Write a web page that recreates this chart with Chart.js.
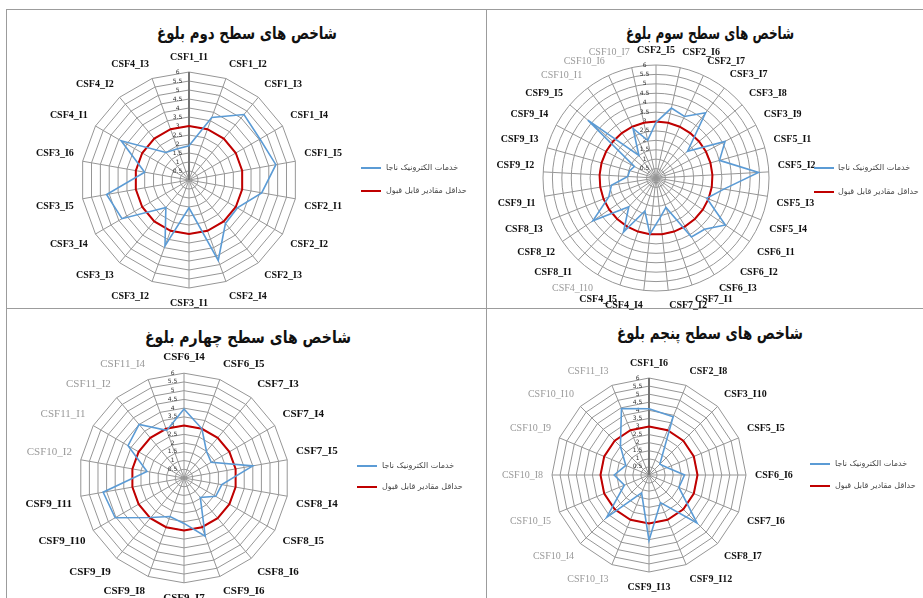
<!DOCTYPE html>
<html><head><meta charset="utf-8">
<script src="https://cdn.jsdelivr.net/npm/chart.js@4.4.1/dist/chart.umd.min.js"></script>
<style>
html,body{margin:0;padding:0;background:#fff;}
body{width:923px;height:598px;position:relative;overflow:hidden;}
.rule{position:absolute;background:#9c9c9c;}
canvas{position:absolute;}
.title{position:absolute;font-family:"DejaVu Sans",sans-serif;font-weight:bold;font-size:17px;line-height:20px;direction:rtl;white-space:nowrap;transform-origin:0 50%;color:#111;}
.leg{position:absolute;font-family:"DejaVu Sans",sans-serif;font-size:8px;line-height:10px;color:#444;direction:rtl;white-space:nowrap;}
.sw{position:absolute;height:2px;width:20px;}
</style></head><body>

<div class="rule" style="left:6px;top:9px;width:1px;height:589px"></div>
<div class="rule" style="left:6px;top:9px;width:917px;height:1px"></div>
<div class="rule" style="left:486px;top:9px;width:1px;height:589px"></div>
<div class="rule" style="left:6px;top:308px;width:917px;height:1px"></div>

<canvas id="c1" width="360" height="258" style="left:9px;top:51px"></canvas>
<canvas id="c2" width="366" height="268" style="left:473px;top:44px"></canvas>
<canvas id="c3" width="362" height="254" style="left:3px;top:351px"></canvas>
<canvas id="c4" width="340" height="236" style="left:479px;top:357px"></canvas>

<div class="title" id="t1" style="top:23px">شاخص های سطح دوم بلوغ</div>
<div class="title" id="t2" style="top:23px">شاخص های سطح سوم بلوغ</div>
<div class="title" id="t3" style="top:327px">شاخص های سطح چهارم بلوغ</div>
<div class="title" id="t4" style="top:323px">شاخص های سطح پنجم بلوغ</div>

<div class="sw" style="left:361px;top:167px;background:#5b9bd5"></div>
<div class="leg" style="left:386px;top:163px">خدمات الکترونیک ناجا</div>
<div class="sw" style="left:361px;top:190px;background:#c00000"></div>
<div class="leg" style="left:386px;top:186px">حداقل مقادیر قابل قبول</div>

<div class="sw" style="left:814px;top:167px;background:#5b9bd5"></div>
<div class="leg" style="left:838px;top:163px">خدمات الکترونیک ناجا</div>
<div class="sw" style="left:814px;top:191px;background:#c00000"></div>
<div class="leg" style="left:838px;top:187px">حداقل مقادیر قابل قبول</div>

<div class="sw" style="left:357px;top:465px;background:#5b9bd5"></div>
<div class="leg" style="left:382px;top:461px">خدمات الکترونیک ناجا</div>
<div class="sw" style="left:357px;top:486px;background:#c00000"></div>
<div class="leg" style="left:382px;top:482px">حداقل مقادیر قابل قبول</div>

<div class="sw" style="left:810px;top:463px;background:#5b9bd5"></div>
<div class="leg" style="left:835px;top:459px">خدمات الکترونیک ناجا</div>
<div class="sw" style="left:810px;top:485px;background:#c00000"></div>
<div class="leg" style="left:835px;top:481px">حداقل مقادیر قابل قبول</div>

<script>
// ---------- data ----------
const seriesNames = ['خدمات الکترونیک ناجا', 'حداقل مقادیر قابل قبول'];
const tickValues = [0, 0.5, 1, 1.5, 2, 2.5, 3, 3.5, 4, 4.5, 5, 5.5, 6];

// level 2
const labels2 = ['CSF1_I1','CSF1_I2','CSF1_I3','CSF1_I4','CSF1_I5','CSF2_I1','CSF2_I2','CSF2_I3','CSF2_I4',
                 'CSF3_I1','CSF3_I2','CSF3_I3','CSF3_I4','CSF3_I5','CSF3_I6','CSF4_I1','CSF4_I2','CSF4_I3'];
const naja2 = [1.9, 3.7, 4.75, 4.55, 4.9, 4.1, 3.1, 3.15, 4.75, 1.55, 3.9, 2.0, 4.3, 4.65, 2.5, 4.35, 2.0, 1.85];
const minimum2 = [3, 3, 3, 3, 3, 3, 3, 3, 3, 3, 3, 3, 3, 3, 3, 3, 3, 3];
const readable2 = [];

// level 3
const labels3 = ['CSF2_I5','CSF2_I6','CSF2_I7','CSF3_I7','CSF3_I8','CSF3_I9','CSF5_I1','CSF5_I2','CSF5_I3','CSF5_I4',
                 'CSF6_I1','CSF6_I2','CSF6_I3','CSF7_I1','CSF7_I2','CSF4_I4','CSF4_I5','CSF4_I10','CSF8_I1','CSF8_I2',
                 'CSF8_I3','CSF9_I1','CSF9_I2','CSF9_I3','CSF9_I4','CSF9_I5','CSF10_I1','CSF10_I6','CSF10_I7'];
const naja3 = [2.95, 3.8, 3.6, 4.35, 2.2, 4.15, 3.5, 5.45, 3.65, 2.9, 4.45, 3.75, 3.65, 1.65, 2.1, 3.0, 1.85, 3.35,
               2.1, 4.05, 2.7, 2.4, 1.5, 1.45, 1.3, 4.75, 1.5, 2.9, 2.05];
const minimum3 = [3, 3, 3, 3, 3, 3, 3, 3, 3, 3, 3, 3, 3, 3, 3, 3, 3, 3, 3, 3, 3, 3, 3, 3, 3, 3, 3, 3, 3];
const readable3 = ['CSF4_I10','CSF10_I1','CSF10_I6','CSF10_I7'];

// level 4
const labels4 = ['CSF6_I4','CSF6_I5','CSF7_I3','CSF7_I4','CSF7_I5','CSF8_I4','CSF8_I5','CSF8_I6','CSF9_I6',
                 'CSF9_I7','CSF9_I8','CSF9_I9','CSF9_I10','CSF9_I11','CSF10_I2','CSF11_I1','CSF11_I2','CSF11_I4'];
const naja4 = [3.95, 3.0, 2.0, 1.8, 4.0, 2.2, 2.1, 1.45, 3.55, 2.6, 2.35, 2.95, 4.55, 4.7, 2.15, 3.7, 4.0, 2.9];
const minimum4 = [3, 3, 3, 3, 3, 3, 3, 3, 3, 3, 3, 3, 3, 3, 3, 3, 3, 3];
const readable4 = ['CSF10_I2','CSF11_I1','CSF11_I2','CSF11_I4'];

// level 5
const labels5 = ['CSF1_I6','CSF2_I8','CSF3_I10','CSF5_I5','CSF6_I6','CSF7_I6','CSF8_I7','CSF9_I12','CSF9_I13',
                 'CSF10_I3','CSF10_I4','CSF10_I5','CSF10_I8','CSF10_I9','CSF10_I10','CSF11_I3'];
const naja5 = [4.1, 3.9, 0.95, 1.2, 2.2, 2.0, 4.2, 1.85, 4.05, 1.2, 3.7, 1.65, 2.15, 1.55, 2.5, 4.45];
const minimum5 = [3, 3, 3, 3, 3, 3, 3, 3, 3, 3, 3, 3, 3, 3, 3, 3];
const readable5 = ['CSF10_I3','CSF10_I4','CSF10_I5','CSF10_I8','CSF10_I9','CSF10_I10','CSF11_I3'];

// ---------- layout (title centre x and width) ----------
const titleBoxes = [['t1', 247, 180], ['t2', 710, 168], ['t3', 248, 206], ['t4', 710, 186]];
titleBoxes.forEach(([id, cx, w]) => {
  const el = document.getElementById(id);
  const natural = el.getBoundingClientRect().width;
  const k = w / natural;
  el.style.left = (cx - w / 2) + 'px';
  el.style.transform = 'scaleX(' + k + ')';
});

// ---------- drawing ----------
function radar(id, labels, naja, minimum, readable, style) {
  new Chart(document.getElementById(id), {
    type: 'radar',
    data: {
      labels: labels,
      datasets: [
        { label: seriesNames[0], data: naja, borderColor: '#5b9bd5', borderWidth: 1.6,
          pointRadius: 0, fill: false, tension: 0 },
        { label: seriesNames[1], data: minimum, borderColor: '#c00000', borderWidth: 2,
          pointRadius: 0, fill: false, tension: 0 }
      ]
    },
    options: {
      responsive: false, animation: false, devicePixelRatio: 1,
      plugins: { legend: { display: false }, tooltip: { enabled: false } },
      scales: {
        r: {
          min: tickValues[0], max: tickValues[tickValues.length - 1],
          ticks: {
            stepSize: tickValues[1] - tickValues[0],
            font: { size: 6, family: 'DejaVu Sans' },
            color: '#333', showLabelBackdrop: false,
            callback: v => v + '\u2007\u2007\u2007\u2007\u2007\u2007'
          },
          grid: { color: '#969696', lineWidth: 1, circular: style.circular },
          angleLines: {
            color: c => (c.index === 0 && style.axisDark) ? '#747474' : '#969696',
            lineWidth: c => (c.index === 0 && style.axisDark) ? 2 : 1
          },
          pointLabels: {
            padding: 4,
            color: c => readable.includes(labels[c.index]) ? '#9a9a9a' : '#111',
            font: c => ({ family: 'Liberation Serif', size: style.labelSize,
                          weight: readable.includes(labels[c.index]) ? 'normal' : 'bold' })
          }
        }
      }
    }
  });
}

radar('c1', labels2, naja2, minimum2, readable2, { circular: false, axisDark: true, labelSize: 10 });
radar('c2', labels3, naja3, minimum3, readable3, { circular: true, axisDark: false, labelSize: 10 });
radar('c3', labels4, naja4, minimum4, readable4, { circular: false, axisDark: false, labelSize: 11 });
radar('c4', labels5, naja5, minimum5, readable5, { circular: false, axisDark: true, labelSize: 10 });
</script>
</body></html>
